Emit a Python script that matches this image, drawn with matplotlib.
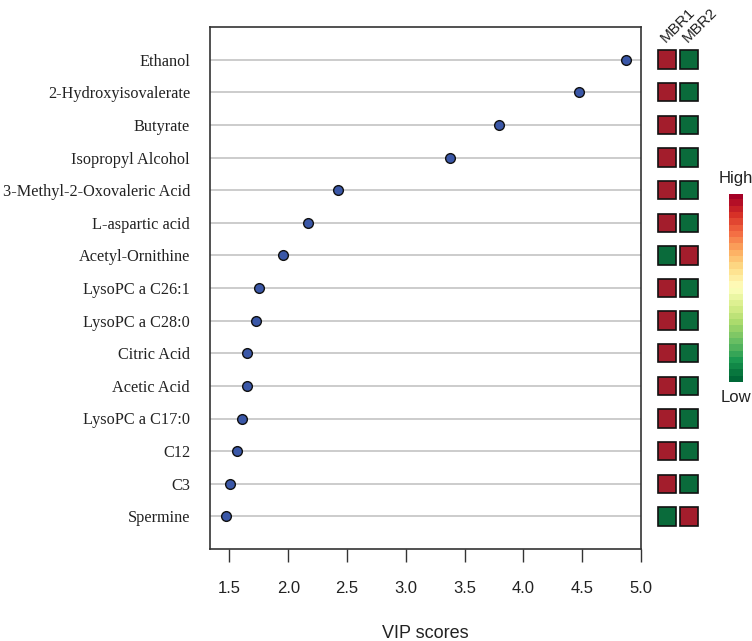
import numpy as np
import matplotlib
matplotlib.use("Agg")
import matplotlib.pyplot as plt
from matplotlib.patches import Rectangle

# data, top to bottom as in the figure
metabolites = ["Ethanol", "2-Hydroxyisovalerate", "Butyrate", "Isopropyl Alcohol",
               "3-Methyl-2-Oxovaleric Acid", "L-aspartic acid", "Acetyl-Ornithine",
               "LysoPC a C26:1", "LysoPC a C28:0", "Citric Acid", "Acetic Acid",
               "LysoPC a C17:0", "C12", "C3", "Spermine"]
vip = [4.87, 4.475, 3.79, 3.375, 2.42, 2.167, 1.954, 1.75, 1.724,
       1.653, 1.648, 1.608, 1.565, 1.503, 1.47]
groups = ["MBR1", "MBR2"]
# 1 = high, 0 = low
mbr1 = [1, 1, 1, 1, 1, 1, 0, 1, 1, 1, 1, 1, 1, 1, 0]
mbr2 = [0, 0, 0, 0, 0, 0, 1, 0, 0, 0, 0, 0, 0, 0, 1]
xticks = [1.5, 2.0, 2.5, 3.0, 3.5, 4.0, 4.5, 5.0]

red = "#a31d2c"
green = "#0a6b3b"
serif = ["Liberation Serif", "DejaVu Serif"]
sans = ["Liberation Sans", "DejaVu Sans"]

W, H = 752, 641
fig = plt.figure(figsize=(W / 100, H / 100), dpi=100)

def box(x0, y0, x1, y1):
    # pixel box (top-left origin) -> figure fraction
    return [x0 / W, 1 - y1 / H, (x1 - x0) / W, (y1 - y0) / H]

n = len(metabolites)
ypos = np.arange(n, 0, -1)

ax = fig.add_axes(box(209.5, 27, 641, 549))
ax.set_xlim(1.33, 5.0)
ax.set_ylim(0, n + 1)
for y in ypos:
    ax.axhline(y, color="#c8c8c8", lw=1.3, zorder=1)
ax.plot(vip, ypos, "o", ms=7, mfc="#3a57a7", mec="#111111", mew=1.0,
        zorder=3, clip_on=False)
ax.set_yticks(ypos)
ax.set_yticklabels(metabolites, family=serif, fontsize=11.7, color="#222222")
ax.tick_params(axis="y", length=0, pad=14)
ax.set_xticks(xticks)
ax.set_xticklabels([f"{t:.1f}" for t in xticks], family=sans, fontsize=12,
                   color="#222222")
ax.tick_params(axis="x", length=9, width=1, color="#333333", pad=14)
for s in ax.spines.values():
    s.set_color("#333333")
    s.set_linewidth(1.2)
ax.set_xlabel("VIP scores", family=sans, fontsize=13, color="#222222",
              labelpad=21)

# heatmap of group levels
hm = fig.add_axes(box(656.3, 27, 699.3, 549))
hm.set_xlim(0, 2)
hm.set_ylim(0, n + 1)
hm.axis("off")
sw, sh = 0.84, 0.56
for col, vals in enumerate([mbr1, mbr2]):
    for y, v in zip(ypos, vals):
        hm.add_patch(Rectangle((col + 0.5 - sw / 2, y - sh / 2), sw, sh,
                               facecolor=red if v else green,
                               edgecolor="#111111", lw=1.2))
for col, g in enumerate(groups):
    hm.text(col + 0.55, n + 0.45, g, rotation=45, rotation_mode="anchor",
            ha="left", va="bottom", family=sans, fontsize=11, color="#222222",
            transform=hm.transData, clip_on=False)

# colour key
cb = fig.add_axes(box(729, 194, 743, 382))
grad = np.linspace(0, 1, 30).reshape(-1, 1)
cb.imshow(grad, aspect="auto", cmap="RdYlGn_r", origin="lower",
          extent=[0, 1, 0, 1], interpolation="nearest")
cb.set_xlim(0, 1)
cb.set_ylim(0, 1)
cb.axis("off")
cb.text(0.5, 1.04, "High", ha="center", va="bottom", family=sans,
        fontsize=12, color="#222222", transform=cb.transAxes)
cb.text(0.5, -0.04, "Low", ha="center", va="top", family=sans,
        fontsize=12, color="#222222", transform=cb.transAxes)

fig.savefig("out.png", dpi=100)
